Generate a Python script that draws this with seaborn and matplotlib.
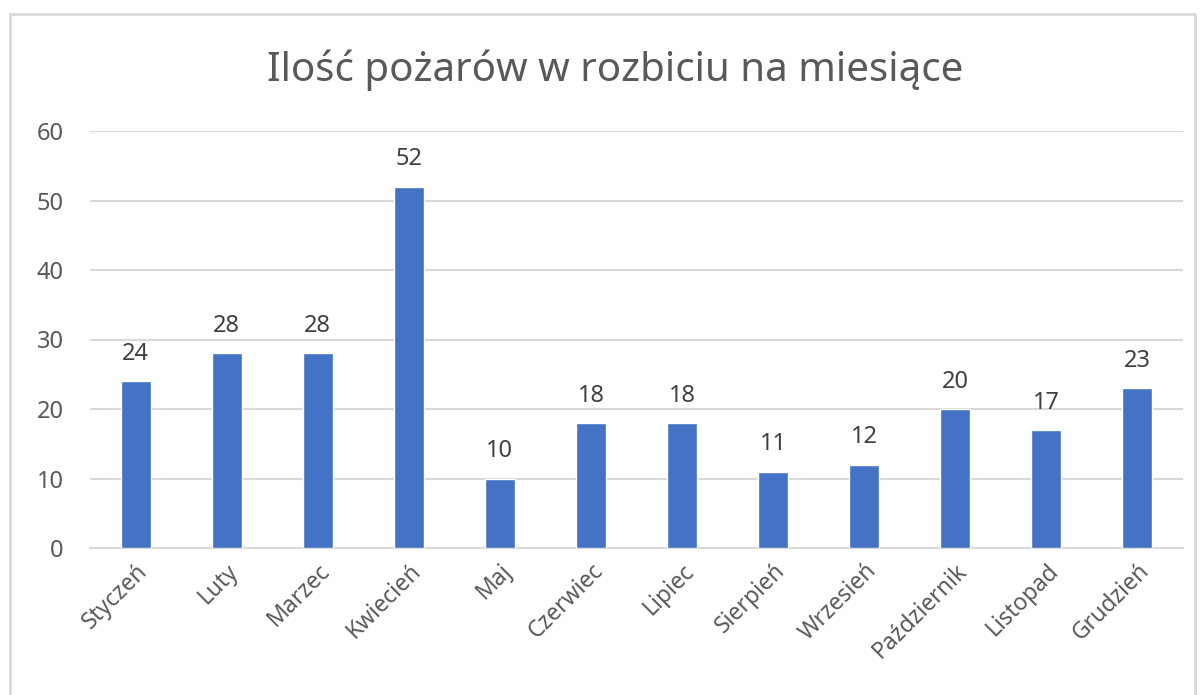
import seaborn as sns
import matplotlib.pyplot as plt
import pandas as pd
from matplotlib.patches import Rectangle

sns.set_theme(style="white")
plt.rcParams['font.family'] = ['Noto Sans', 'DejaVu Sans']

months = ["Styczeń", "Luty", "Marzec", "Kwiecień", "Maj", "Czerwiec",
          "Lipiec", "Sierpień", "Wrzesień", "Październik", "Listopad", "Grudzień"]
fires = [24, 28, 28, 52, 10, 18, 18, 11, 12, 20, 17, 23]
title = "Ilość pożarów w rozbiciu na miesiące"

df = pd.DataFrame({"miesiac": months, "pozary": fires})

fig = plt.figure(figsize=(12.04, 6.95), dpi=100)
# outer frame like the Excel chart area
fig.patches.append(Rectangle((10 / 1204, -0.01), 1185 / 1204, 1 - 14 / 695 + 0.01,
                             transform=fig.transFigure, fill=False,
                             edgecolor="#D9D9D9", linewidth=2))

ax = fig.add_axes([90 / 1204, 1 - 548 / 695, 1093 / 1204, 417 / 695])
sns.barplot(data=df, x="miesiac", y="pozary", color="#4472C4", width=0.33,
            saturation=1, ax=ax, zorder=3)

ax.set_ylim(0, 60)
ax.set_yticks(range(0, 61, 10))
ax.set_xlim(-0.5, len(months) - 0.5)
ax.yaxis.grid(True, color="#D9D9D9", linewidth=1.5, zorder=0)
for s in ["top", "right", "left"]:
    ax.spines[s].set_visible(False)
ax.spines["bottom"].set_color("#D9D9D9")
ax.spines["bottom"].set_linewidth(1.5)
ax.set_xlabel("")
ax.set_ylabel("")
ax.tick_params(axis="y", labelsize=17, labelcolor="#595959", length=0, pad=19)
ax.tick_params(axis="x", labelsize=16.5, labelcolor="#595959", length=0, pad=8)
for lab in ax.get_xticklabels():
    lab.set_rotation(45)
    lab.set_ha("right")
    lab.set_rotation_mode("anchor")

ax.bar_label(ax.containers[0], fontsize=17, color="#404040", padding=11)

fig.text(615 / 1204, 1 - 70 / 695, title, ha="center", va="center",
         fontsize=29, color="#595959")

fig.savefig("out.png", dpi=100, facecolor="white")
